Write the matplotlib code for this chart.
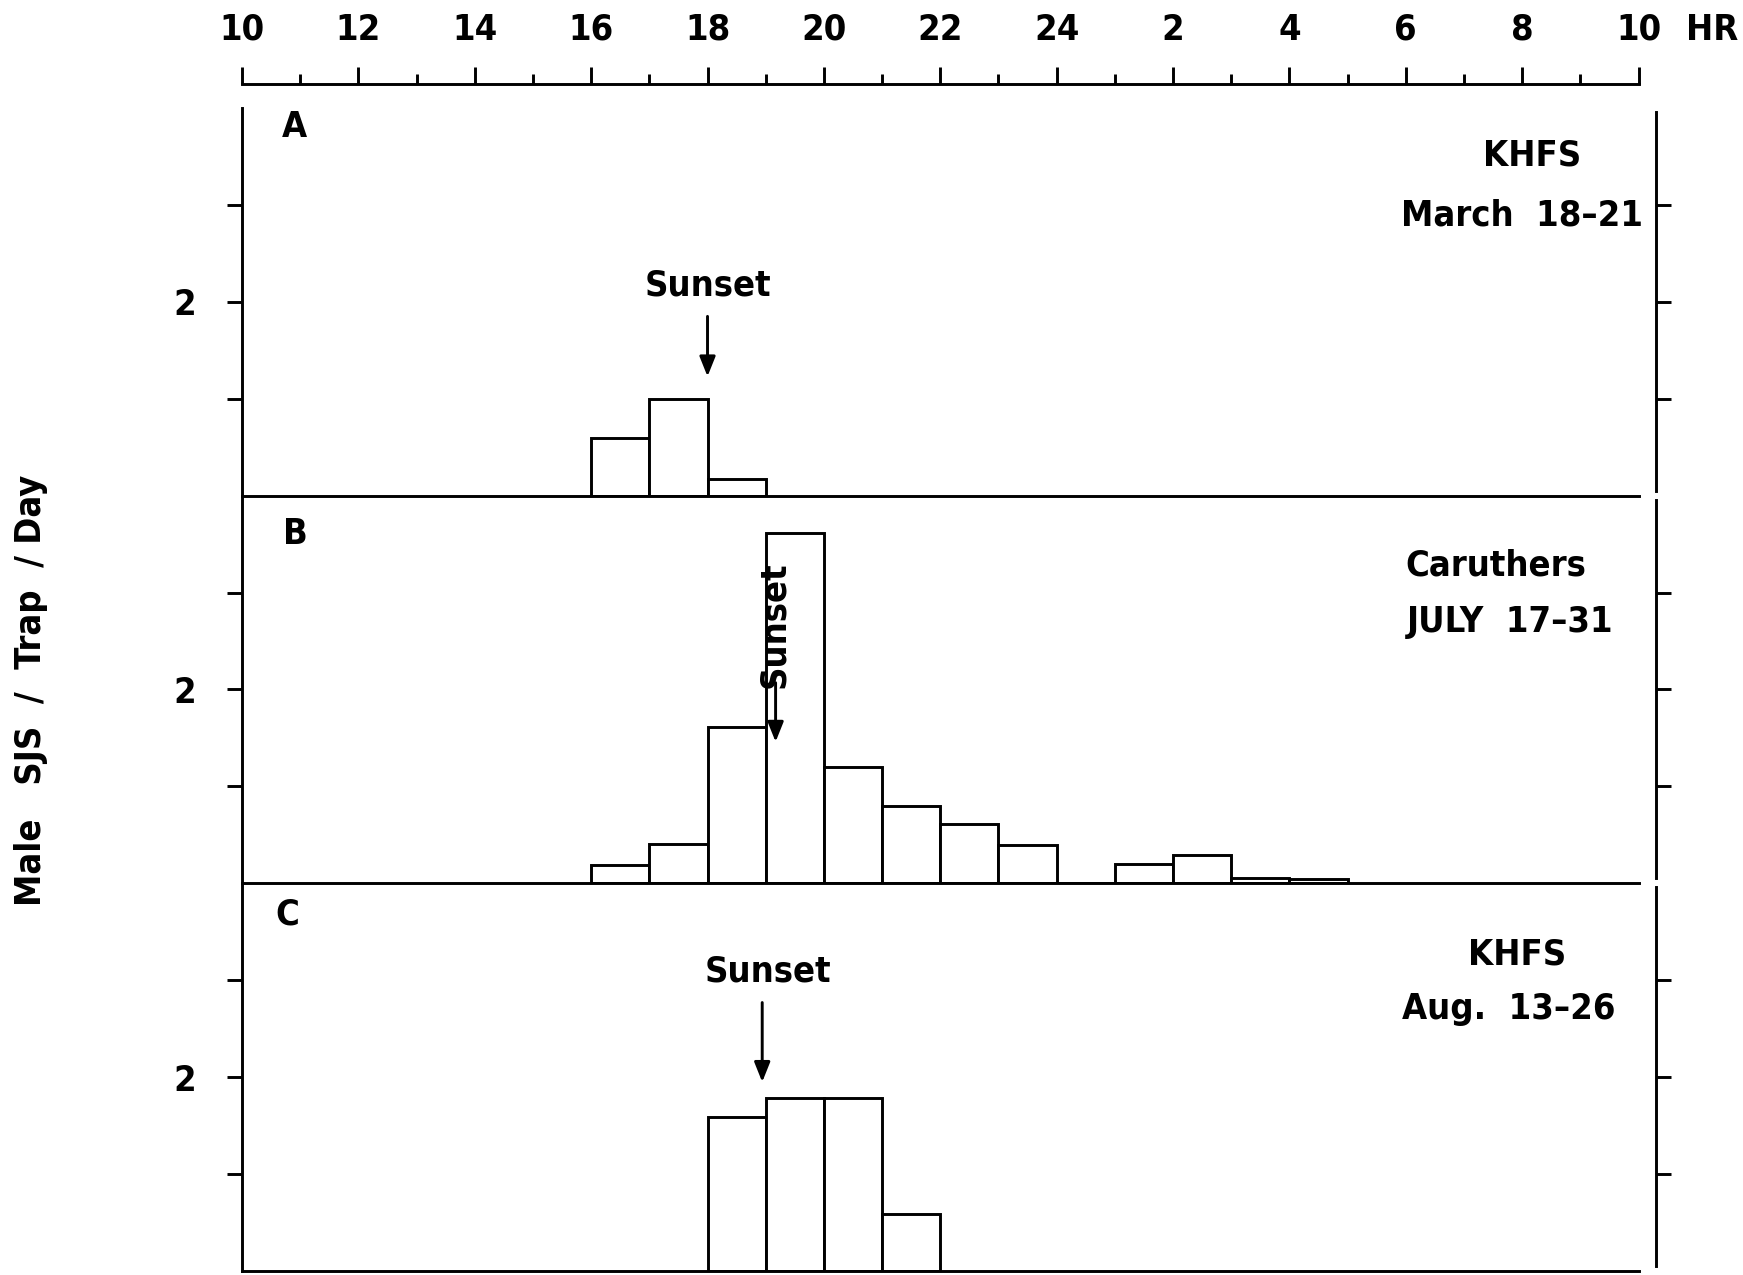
import matplotlib
matplotlib.use("Agg")
import matplotlib.pyplot as plt

# ---------- data (hour bins, males / trap / day) ---------- #
hour_ticks = [10, 12, 14, 16, 18, 20, 22, 24, 26, 28, 30, 32, 34]
hour_labels = ["10", "12", "14", "16", "18", "20", "22", "24", "2", "4", "6", "8", "10"]

hours_a = [16, 17, 18]
males_a = [0.60, 1.00, 0.17]

hours_b = [16, 17, 18, 19, 20, 21, 22, 23, 24, 25, 26, 27, 28]
males_b = [0.19, 0.41, 1.61, 3.61, 1.20, 0.80, 0.61, 0.40, 0.0, 0.20, 0.29, 0.05, 0.04]

hours_c = [18, 19, 20, 21]
males_c = [1.59, 1.79, 1.79, 0.59]

panel_letters = ["A", "B", "C"]
sites = ["KHFS", "Caruthers", "KHFS"]
dates = ["March  18\u201321", "JULY  17\u201331", "Aug.  13\u201326"]
sunset_hour = [18.0, 19.17, 18.94]

# condensed bold lettering, like the typeset original
TXT = dict(family="DejaVu Sans", fontstretch="condensed", fontweight="bold", fontsize=26)
LW = 2.1

# ---------- layout (pixels of the 1743x1275 page) ---------- #
W, H = 1743, 1275
x0, x1 = 242, 1656
y_top, y_bot = 108, 1271
ph = (y_bot - y_top) / 3

fig = plt.figure(figsize=(W / 100, H / 100), dpi=100)

axes = []
for i in range(3):
    top = y_top + i * ph
    ax = fig.add_axes([x0 / W, 1 - (top + ph) / H, (x1 - x0) / W, ph / H])
    ax.patch.set_visible(False)
    ax.set_xlim(10, 34.3)
    ax.set_ylim(0, 4)
    for s in ax.spines.values():
        s.set_linewidth(LW)
    ax.spines["top"].set_visible(False)
    ax.spines["bottom"].set_bounds(10, 34)
    ax.spines["right"].set_bounds(0.05, 3.96)
    ax.set_yticks([1, 2, 3], ["", "2", ""])
    ax.tick_params(axis="y", left=True, right=True, direction="out",
                   length=11, width=LW, pad=22)
    ax.tick_params(axis="x", bottom=False, labelbottom=False)
    for lab in ax.get_yticklabels():
        lab.update(TXT)
    axes.append(ax)

ax_a, ax_b, ax_c = axes

# hour scale on top of panel A
ax_a.spines["top"].set_visible(True)
ax_a.spines["top"].set_position(("outward", 17))
ax_a.spines["top"].set_bounds(10, 34)
ax_a.xaxis.set_ticks_position("top")
ax_a.set_xticks(hour_ticks, hour_labels)
ax_a.set_xticks(range(11, 34, 2), minor=True)
ax_a.tick_params(axis="x", which="major", top=True, labeltop=True, direction="out",
                 length=12, width=LW, pad=15)
ax_a.tick_params(axis="x", which="minor", top=True, direction="out",
                 length=7, width=LW)
for lab in ax_a.get_xticklabels():
    lab.update(TXT)
fig.text(1686 / W, 1 - 30 / H, "HR", ha="left", va="center", **TXT)

# bars
for ax, hrs, vals in [(ax_a, hours_a, males_a), (ax_b, hours_b, males_b), (ax_c, hours_c, males_c)]:
    ax.bar(hrs, vals, width=1, align="edge", facecolor="white",
           edgecolor="black", linewidth=LW)

# panel letters and site/date labels
letter_y = [3.80, 3.60, 3.68]
letter_x = [10.9, 10.92, 10.78]
site_pos = [(32.17, 3.51), (31.54, 3.28), (31.92, 3.27)]
date_pos = [(32.0, 2.89), (31.79, 2.70), (31.77, 2.70)]
for i, ax in enumerate(axes):
    ax.text(letter_x[i], letter_y[i], panel_letters[i], ha="center", va="center", **TXT)
    ax.text(*site_pos[i], sites[i], ha="center", va="center", **TXT)
    ax.text(*date_pos[i], dates[i], ha="center", va="center", **TXT)

# sunset arrows
arrow = dict(arrowstyle="-|>,head_length=0.5,head_width=0.2", lw=LW, color="black",
             mutation_scale=24, shrinkA=0, shrinkB=0)
ax_a.annotate("", xy=(sunset_hour[0], 1.23), xytext=(sunset_hour[0], 1.85), arrowprops=arrow)
ax_a.text(sunset_hour[0], 2.17, "Sunset", ha="center", va="center", **TXT)

ax_b.annotate("", xy=(sunset_hour[1], 1.46), xytext=(sunset_hour[1], 2.07), arrowprops=arrow)
ax_b.text(sunset_hour[1] - 0.02, 2.67, "Sunset", ha="center", va="center", rotation=90, **TXT)

ax_c.annotate("", xy=(sunset_hour[2], 1.95), xytext=(sunset_hour[2], 2.77), arrowprops=arrow)
ax_c.text(sunset_hour[2] + 0.1, 3.09, "Sunset", ha="center", va="center", **TXT)

fig.text(31 / W, 1 - 690 / H, "Male   SJS  /  Trap  / Day", rotation=90,
         ha="center", va="center", **TXT)

fig.savefig("out.png", dpi=100, facecolor="white")
